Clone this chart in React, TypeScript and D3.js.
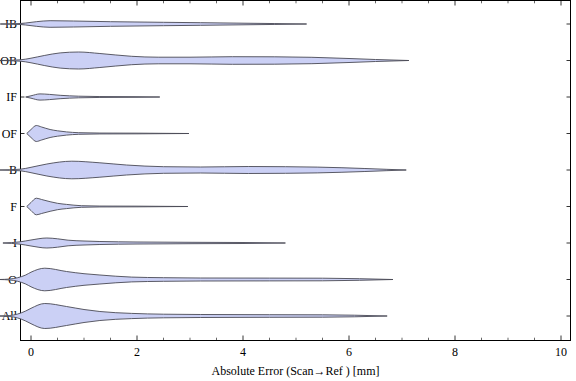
import React from "react";
import * as d3 from "d3";

const categories = ["IB", "OB", "IF", "OF", "B", "F", "I", "O", "All"];

// density profiles: [error in mm, density]
const densIB: [number, number][] = [[-0.58, 0], [-0.2, 0.5], [-0.1, 1], [0.1, 2.3], [0.36, 3.3], [0.8, 3.0], [1.5, 2.3], [2.5, 1.7], [3.2, 1.3], [4, 0.8], [4.6, 0.45], [5.2, 0]];
const densOB: [number, number][] = [[-0.6, 0], [-0.2, 0.7], [0, 2.3], [0.25, 5], [0.55, 7.6], [0.9, 8.5], [1.3, 7], [1.9, 4.2], [2.4, 3.3], [3, 3.3], [3.8, 3.8], [4.6, 3.7], [5.3, 3.2], [6, 2], [6.5, 1], [7.13, 0]];
const densIF: [number, number][] = [[-0.1, 0], [0, 1.2], [0.17, 3.1], [0.35, 2.6], [0.55, 1.7], [0.9, 0.8], [1.3, 0.45], [2, 0.3], [2.43, 0]];
const densOF: [number, number][] = [[-0.08, 0], [0, 4], [0.1, 8], [0.2, 6.5], [0.36, 4], [0.5, 2.7], [0.67, 1.6], [0.9, 0.8], [1.3, 0.45], [2, 0.35], [2.98, 0]];
const densB: [number, number][] = [[-0.6, 0], [-0.2, 0.8], [0, 2.7], [0.3, 6], [0.77, 8.8], [1.3, 7.2], [1.8, 5], [2.5, 3.3], [3.2, 3], [4.1, 3.5], [4.8, 3.3], [5.4, 2.9], [6.3, 1.5], [6.7, 0.7], [7.08, 0]];
const densF: [number, number][] = [[-0.08, 0], [0, 4], [0.1, 8.3], [0.2, 7], [0.36, 4.8], [0.5, 3.2], [0.67, 2.1], [0.95, 0.8], [1.3, 0.45], [2, 0.35], [2.96, 0]];
const densI: [number, number][] = [[-0.53, 0], [-0.2, 1.2], [0, 3], [0.3, 5], [0.5, 4.2], [0.7, 2.8], [1, 2], [1.3, 1.5], [2, 1], [3, 0.7], [4, 0.5], [4.8, 0]];
const densO: [number, number][] = [[-0.6, 0], [-0.4, 0.5], [-0.25, 1.8], [-0.1, 4.5], [0, 7.3], [0.26, 11.3], [0.67, 8], [1, 5.8], [1.3, 4.5], [1.9, 2.4], [2.5, 1.8], [3.2, 1.5], [4.5, 1.4], [5.5, 1.3], [6.2, 0.8], [6.83, 0]];
const densAll: [number, number][] = [[-0.6, 0], [-0.4, 0.5], [-0.25, 2], [-0.1, 5], [0, 7.7], [0.26, 12.5], [0.67, 9.5], [1, 6.5], [1.3, 4.5], [1.9, 2.6], [2.5, 1.8], [3.2, 1.5], [4.5, 1.3], [5.5, 1.2], [6.1, 0.8], [6.72, 0]];

const densities = [densIB, densOB, densIF, densOF, densB, densF, densI, densO, densAll];

const majorTicks = [0, 2, 4, 6, 8, 10];
const minorTicks = d3.range(0, 10.01, 0.5).filter((v) => Math.abs(v % 2) > 1e-6);

const W = 576;
const H = 381;
const left = 20.5;
const right = 570.5;
const top = 0.5;
const bottom = 340.5;

export default function App() {
  const x = d3.scaleLinear().domain([0, 10]).range([31, 561]);
  const y = d3.scalePoint<string>().domain(categories).range([24, 316]);
  const w = d3.scaleLinear().domain([0, 10]).range([0, 10]);

  const font = "'Liberation Serif', 'Times New Roman', serif";

  return (
    <svg width={W} height={H} style={{ position: "absolute", left: 0, top: 0 }}>
      <rect x={0} y={0} width={W} height={H} fill="#fff" />
      {/* frame */}
      <rect x={left} y={top} width={right - left} height={bottom - top} fill="none" stroke="#000" strokeWidth={1} />
      {/* x ticks */}
      {majorTicks.map((t) => (
        <g key={"M" + t}>
          <line x1={x(t)} x2={x(t)} y1={bottom} y2={bottom - 5} stroke="#000" strokeWidth={0.8} />
          <line x1={x(t)} x2={x(t)} y1={top} y2={top + 5} stroke="#000" strokeWidth={0.8} />
          <text x={x(t)} y={356} textAnchor="middle" fontFamily={font} fontSize={12} fill="#000">
            {t}
          </text>
        </g>
      ))}
      {minorTicks.map((t) => (
        <g key={"m" + t}>
          <line x1={x(t)} x2={x(t)} y1={bottom} y2={bottom - 2.8} stroke="#000" strokeWidth={0.6} />
          <line x1={x(t)} x2={x(t)} y1={top} y2={top + 2.8} stroke="#000" strokeWidth={0.6} />
        </g>
      ))}
      {/* y ticks & labels */}
      {categories.map((c) => (
        <g key={"y" + c}>
          <line x1={left} x2={left + 4} y1={y(c)} y2={y(c)} stroke="#000" strokeWidth={0.8} />
          <line x1={right} x2={right - 4} y1={y(c)} y2={y(c)} stroke="#000" strokeWidth={0.8} />
          <text x={17} y={(y(c) as number) + 4} textAnchor="end" fontFamily={font} fontSize={12} fill="#000">
            {c}
          </text>
        </g>
      ))}
      {/* violins */}
      {categories.map((c, i) => {
        const cy = y(c) as number;
        const area = d3
          .area<[number, number]>()
          .x((d) => x(d[0]))
          .y0((d) => cy + w(d[1]))
          .y1((d) => cy - w(d[1]))
          .curve(d3.curveMonotoneX);
        return (
          <path
            key={"v" + c}
            d={area(densities[i]) || ""}
            fill="#cbd0f5"
            stroke="#4a4a55"
            strokeWidth={0.9}
            strokeLinejoin="round"
          />
        );
      })}
      <text x={(left + right) / 2} y={375} textAnchor="middle" fontFamily={font} fontSize={12} fill="#000">
        Absolute Error (Scan→Ref ) [mm]
      </text>
    </svg>
  );
}
